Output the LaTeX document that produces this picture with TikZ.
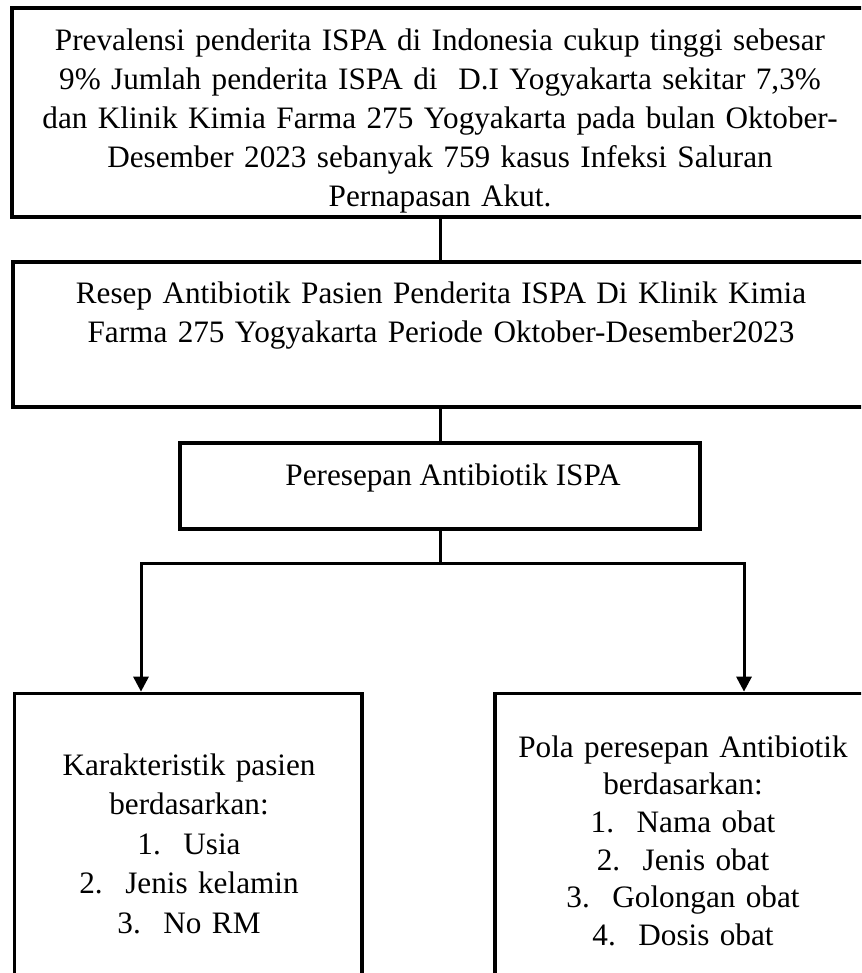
\documentclass[tikz,border=0pt]{standalone}
\usepackage{fontspec}
\setmainfont{Liberation Serif}
\usetikzlibrary{arrows.meta}

\newcommand{\numitem}[2]{\makebox[46pt][l]{#1}#2}

\begin{document}
\begin{tikzpicture}[x=1pt, y=-1pt,
bigbox/.style={rectangle, draw=black, line width=4pt, inner sep=0pt},
smallbox/.style={rectangle, draw=black, line width=3.3pt, inner sep=0pt},
boxtext/.style={align=center, inner sep=0pt, anchor=north, font=\fontsize{31.2}{39}\selectfont},
link/.style={line width=3pt},
linkarrow/.style={line width=3pt, -{Triangle[width=15pt, length=15pt]}}
]
    \useasboundingbox (0,0) rectangle (861,973);
    \clip (0,0) rectangle (861,973);

    \node[bigbox, minimum width=856pt, minimum height=209pt] (prev) at (440,112.5){};
    \node[boxtext, text width=850pt] (prevtext) at (440,22.7){\strut Prevalensi penderita ISPA di Indonesia cukup tinggi sebesar\\
        9\% Jumlah penderita ISPA di\ \ D.I Yogyakarta sekitar 7,3\%\\
        dan Klinik Kimia Farma 275 Yogyakarta pada bulan Oktober-\\
        Desember 2023 sebanyak 759 kasus Infeksi Saluran\\
        Pernapasan Akut.};

    \node[bigbox, minimum width=853.4pt, minimum height=144.7pt] (resep) at (440,334.7){};
    \node[boxtext, text width=850pt] (reseptext) at (441,275.7){\strut Resep Antibiotik Pasien Penderita ISPA Di Klinik Kimia\\
        Farma 275 Yogyakarta Periode Oktober-Desember2023};

    \node[smallbox, minimum width=520pt, minimum height=86pt] (peresepan) at (440,486){};
    \node[boxtext] (peresepantext) at (453,457.7){\strut Peresepan Antibiotik ISPA};

    \node[smallbox, minimum width=347.5pt, minimum height=306.7pt] (kar) at (188.25,846.65){};
    \node[boxtext, text width=340pt, font=\fontsize{31.2}{39.5}\selectfont] (kartext) at (189,747.4){\strut Karakteristik pasien\\
        berdasarkan:\\
        \numitem{1.}{Usia}\\
        \numitem{2.}{Jenis kelamin}\\
        \numitem{3.}{No RM}};

    \node[smallbox, minimum width=377pt, minimum height=306.7pt] (pola) at (683.5,846.65){};
    \node[boxtext, text width=370pt, font=\fontsize{31.2}{37.6}\selectfont] (polatext) at (683,730.7){\strut Pola peresepan Antibiotik\\
        berdasarkan:\\
        \numitem{1.}{Nama obat}\\
        \numitem{2.}{Jenis obat}\\
        \numitem{3.}{Golongan obat}\\
        \numitem{4.}{Dosis obat}};

    \coordinate (split) at (440,563);
    \coordinate (splitL) at (141,563);
    \coordinate (splitR) at (744,563);

    \draw[link] (prev) -- (resep);
    \draw[link] (resep) -- (peresepan);
    \draw[link] (peresepan.south) -- (split);
    \draw[link, line cap=rect] (splitL) -- (splitR);
    \draw[linkarrow] (splitL) -- (splitL |- kar.north);
    \draw[linkarrow] (splitR) -- (splitR |- pola.north);
\end{tikzpicture}
\end{document}
